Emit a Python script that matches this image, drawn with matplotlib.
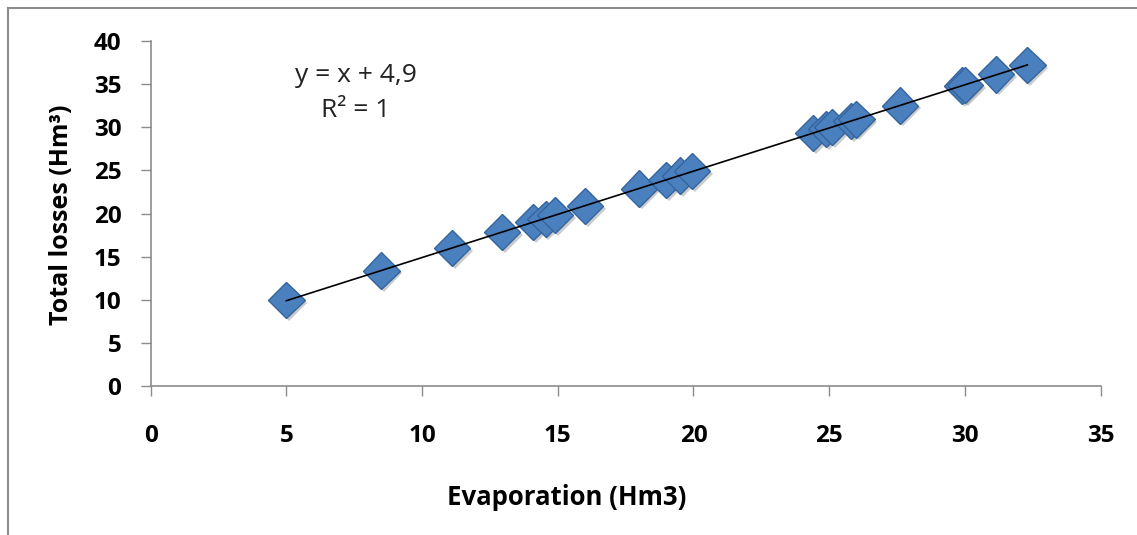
import numpy as np
import matplotlib
matplotlib.use("Agg")
import matplotlib.pyplot as plt
import matplotlib.patheffects as pe
from matplotlib.lines import Line2D

# valeurs
evaporation = [5.0, 8.5, 11.1, 12.95, 14.1, 14.55, 14.9, 16.0, 18.0, 19.0, 19.5, 19.95,
               24.4, 24.9, 25.1, 25.8, 26.0, 27.6, 29.9, 30.0, 31.15, 32.3]
total_losses = [10.0, 13.4, 16.0, 17.9, 19.0, 19.4, 19.8, 20.9, 22.9, 23.9, 24.4, 24.9,
                29.3, 29.8, 30.0, 30.7, 30.9, 32.5, 34.8, 34.9, 36.1, 37.2]
x_ticks = [0, 5, 10, 15, 20, 25, 30, 35]
y_ticks = [0, 5, 10, 15, 20, 25, 30, 35, 40]

plt.rcParams['font.family'] = ['Open Sans', 'DejaVu Sans']

fig = plt.figure(figsize=(11.37, 5.35), dpi=100)
ax = fig.add_axes([0.1325, 0.2776, 0.8355, 0.6463])

# courbe de tendance
a, b = np.polyfit(evaporation, total_losses, 1)
xs = np.array([min(evaporation), max(evaporation)])
ax.plot(xs, a * xs + b, color='black', lw=1.2, zorder=3)

ax.plot(evaporation, total_losses, linestyle='none', marker='D', markersize=18.5,
        markerfacecolor='#4b80bf', markeredgecolor='#33649e', markeredgewidth=1.0,
        zorder=2,
        path_effects=[pe.SimplePatchShadow(offset=(2, -2), shadow_rgbFace='#555555', alpha=0.3),
                      pe.Normal()])

ax.text(7.55, 36.0, 'y = x + 4,9', ha='center', va='center', fontsize=19, color='#222222')
ax.text(7.55, 31.9, 'R² = 1', ha='center', va='center', fontsize=19, color='#222222')

ax.set_xlim(0, 35)
ax.set_ylim(0, 40)
ax.set_xticks(x_ticks)
ax.set_yticks(y_ticks)

for s in ['top', 'right']:
    ax.spines[s].set_visible(False)
for s in ['left', 'bottom']:
    ax.spines[s].set_color('#8c8c8c')
    ax.spines[s].set_linewidth(1.2)

ax.tick_params(axis='both', direction='out', length=7, width=1, color='#8c8c8c',
               labelsize=17.5)
ax.tick_params(axis='x', pad=20)
ax.tick_params(axis='y', pad=14)
for lab in ax.get_xticklabels() + ax.get_yticklabels():
    lab.set_fontweight('bold')

fig.text(567 / 1137, 1 - 505 / 535, 'Evaporation (Hm3)', ha='center', va='baseline',
         fontsize=18.5, fontweight='bold')
fig.text(61 / 1137, 1 - 215 / 535, 'Total losses (Hm³)', ha='center', va='center',
         rotation=90, fontsize=18, fontweight='bold')

# cadre gris à gauche et en haut
fig.add_artist(Line2D([8 / 1137, 8 / 1137], [0, 1 - 8 / 535], color='#8c8c8c', lw=1.5))
fig.add_artist(Line2D([8 / 1137, 1], [1 - 8 / 535, 1 - 8 / 535], color='#8c8c8c', lw=1.5))

fig.savefig('out.png', dpi=100)
